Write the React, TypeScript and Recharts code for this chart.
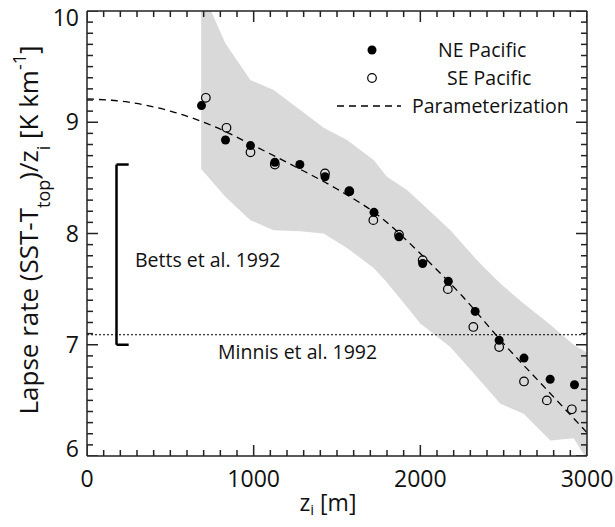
import React from 'react';
import { ComposedChart, Area, Line, Scatter, XAxis, YAxis, ReferenceLine, Customized } from 'recharts';

// tick positions (major every 1000 m / 1 K km-1, minor every 100 m / 0.1)
const xTicks = Array.from({ length: 31 }, (_, i) => i * 100);
const yTicks = Array.from({ length: 41 }, (_, i) => (60 + i) / 10);

// grey range
const bandZ = [685, 830, 980, 1120, 1280, 1420, 1560, 1720, 1800, 1920, 2000, 2180, 2340, 2480, 2620, 2780, 2920, 3000];
const bandHi = [10.2, 9.71, 9.38, 9.29, 9.11, 8.95, 8.84, 8.66, 8.51, 8.39, 8.28, 8.03, 7.76, 7.55, 7.37, 7.18, 7.0, 6.93];
const bandLo = [8.58, 8.33, 8.12, 8.03, 8.02, 8.0, 7.87, 7.69, 7.56, 7.34, 7.19, 6.98, 6.71, 6.47, 6.38, 6.14, 6.16, 5.97];

// parameterization curve
const paramZ = [0, 250, 500, 750, 1000, 1250, 1500, 1750, 2000, 2250, 2500, 2750, 3000];
const paramVal = [9.21, 9.18, 9.1, 8.97, 8.79, 8.6, 8.4, 8.16, 7.82, 7.44, 7.01, 6.61, 6.21];

// NE Pacific (filled)
const neZ = [687, 831, 981, 1127, 1277, 1428, 1574, 1722, 1872, 2014, 2168, 2329, 2473, 2622, 2779, 2925];
const neVal = [9.15, 8.84, 8.79, 8.64, 8.62, 8.51, 8.38, 8.19, 7.97, 7.73, 7.57, 7.3, 7.04, 6.88, 6.69, 6.64];

// SE Pacific (open)
const seZ = [713, 837, 981, 1127, 1428, 1574, 1718, 1872, 2014, 2165, 2318, 2473, 2622, 2759, 2909];
const seVal = [9.22, 8.95, 8.73, 8.62, 8.54, 8.38, 8.12, 7.99, 7.76, 7.5, 7.16, 6.98, 6.67, 6.5, 6.42];

const minnis = 7.09;
const betts = { z: 177, foot: 250, lo: 7.0, hi: 8.62 };

const band = bandZ.map((z, i) => ({ z, lo: bandLo[i], hi: bandHi[i] }));
const param = paramZ.map((z, i) => ({ z, v: paramVal[i] }));
const ne = neZ.map((z, i) => ({ z, v: neVal[i] }));
const se = seZ.map((z, i) => ({ z, v: seVal[i] }));

const isMajorX = (v: number) => v % 1000 === 0;
const isMajorY = (v: number) => Math.abs(v - Math.round(v)) < 1e-6;

// inward tick marks drawn as markers sitting on the frame
const bottomMarks = xTicks.map((z) => ({ z, v: 6, major: isMajorX(z) }));
const topMarks = xTicks.map((z) => ({ z, v: 10, major: isMajorX(z) }));
const leftMarks = yTicks.map((v) => ({ z: 0, v, major: isMajorY(v) }));
const rightMarks = yTicks.map((v) => ({ z: 3000, v, major: isMajorY(v) }));

const FONT = '"Open Sans", sans-serif';
const AXIS = '#222';

const tickMark = (dx: number, dy: number) => (p: any) => {
  const len = p.payload && p.payload.major ? 11 : 6;
  return (
    <line
      x1={p.cx}
      y1={p.cy}
      x2={p.cx + dx * len}
      y2={p.cy + dy * len}
      stroke={AXIS}
      strokeWidth={1.5}
    />
  );
};
const UpMark = tickMark(0, -1);
const DownMark = tickMark(0, 1);
const RightMark = tickMark(1, 0);
const LeftMark = tickMark(-1, 0);

const BottomTick = (p: any) => {
  const v = p.payload.value;
  if (!isMajorX(v)) return <g />;
  return (
    <text x={p.x} y={p.y + 31} textAnchor="middle" fontSize={23} fontFamily={FONT} fill="#111">
      {v}
    </text>
  );
};

const LeftTick = (p: any) => {
  const v = p.payload.value;
  if (!isMajorY(v)) return <g />;
  const shift = v === 10 ? 7 : v === 6 ? -7 : 0;
  return (
    <text x={p.x - 8} y={p.y + 8 + shift} textAnchor="end" fontSize={23} fontFamily={FONT} fill="#111">
      {Math.round(v)}
    </text>
  );
};

const Filled = (p: any) => <circle cx={p.cx} cy={p.cy} r={4.5} fill="#000" />;
const Open = (p: any) => <circle cx={p.cx} cy={p.cy} r={4.3} fill="none" stroke="#000" strokeWidth={1.2} />;

const Overlay = () => (
  <g fontFamily={FONT} fill="#111">
    <circle cx={372} cy={50} r={4.5} fill="#000" />
    <text x={438} y={57} fontSize={19.5}>NE Pacific</text>
    <circle cx={372} cy={78} r={4.3} fill="none" stroke="#000" strokeWidth={1.2} />
    <text x={447} y={85} fontSize={19.5}>SE Pacific</text>
    <line x1={337} x2={401} y1={106} y2={106} stroke="#000" strokeWidth={1.3} strokeDasharray="7 5" />
    <text x={412} y={113} fontSize={19.5}>Parameterization</text>
    <text x={135} y={267} fontSize={19.5}>Betts et al. 1992</text>
    <text x={218} y={359} fontSize={19.5}>Minnis et al. 1992</text>
    <text x={328} y={511} textAnchor="middle" fontSize={23}>
      z<tspan fontSize={15} dy={4}>i</tspan>
      <tspan dy={-4}> [m]</tspan>
    </text>
    <text x={38} y={230} textAnchor="middle" fontSize={26} transform="rotate(-90, 38, 230)">
      Lapse rate (SST-T<tspan fontSize={18} baselineShift="sub">top</tspan>
      <tspan>)/z</tspan>
      <tspan fontSize={18} baselineShift="sub">i</tspan>
      <tspan> [K km</tspan>
      <tspan fontSize={18} baselineShift="super">-1</tspan>
      <tspan>]</tspan>
    </text>
  </g>
);

export default function App() {
  return (
    <div style={{ position: 'absolute', left: 0, top: 0, background: '#fff' }}>
      <ComposedChart width={615} height={527} margin={{ top: 10, right: 27, bottom: 0, left: 0 }}>
        <XAxis
          xAxisId={0}
          dataKey="z"
          type="number"
          domain={[0, 3000]}
          ticks={xTicks}
          interval={0}
          height={71}
          tickSize={0}
          tickMargin={0}
          tickLine={false}
          tick={BottomTick}
          axisLine={{ stroke: AXIS, strokeWidth: 1.5 }}
          allowDataOverflow
        />
        <XAxis
          xAxisId="top"
          orientation="top"
          type="number"
          domain={[0, 3000]}
          ticks={[]}
          height={1}
          tick={false}
          tickLine={false}
          axisLine={{ stroke: AXIS, strokeWidth: 1.5 }}
          allowDataOverflow
        />
        <YAxis
          yAxisId={0}
          type="number"
          domain={[6, 10]}
          ticks={yTicks}
          interval={0}
          width={87}
          tickSize={0}
          tickMargin={0}
          tickLine={false}
          tick={LeftTick}
          axisLine={{ stroke: AXIS, strokeWidth: 1.5 }}
          allowDataOverflow
        />
        <YAxis
          yAxisId="right"
          orientation="right"
          type="number"
          domain={[6, 10]}
          ticks={[]}
          width={1}
          tick={false}
          tickLine={false}
          axisLine={{ stroke: AXIS, strokeWidth: 1.5 }}
          allowDataOverflow
        />
        <Area
          data={band}
          dataKey={(d: any) => [d.lo, d.hi]}
          type="linear"
          stroke="none"
          fill="#d9d9d9"
          fillOpacity={1}
          isAnimationActive={false}
        />
        <ReferenceLine y={minnis} stroke="#000" strokeWidth={1} strokeDasharray="2 2" />
        <ReferenceLine
          segment={[{ x: betts.foot, y: betts.hi }, { x: betts.z, y: betts.hi }]}
          stroke="#000"
          strokeWidth={2.5}
        />
        <ReferenceLine
          segment={[{ x: betts.z, y: betts.hi }, { x: betts.z, y: betts.lo }]}
          stroke="#000"
          strokeWidth={2.5}
        />
        <ReferenceLine
          segment={[{ x: betts.z, y: betts.lo }, { x: betts.foot, y: betts.lo }]}
          stroke="#000"
          strokeWidth={2.5}
        />
        <Line
          data={param}
          dataKey="v"
          type="monotone"
          stroke="#000"
          strokeWidth={1.3}
          strokeDasharray="7 5"
          dot={false}
          activeDot={false}
          isAnimationActive={false}
        />
        <Scatter data={bottomMarks} dataKey="v" shape={UpMark} isAnimationActive={false} />
        <Scatter data={topMarks} dataKey="v" shape={DownMark} isAnimationActive={false} />
        <Scatter data={leftMarks} dataKey="v" shape={RightMark} isAnimationActive={false} />
        <Scatter data={rightMarks} dataKey="v" shape={LeftMark} isAnimationActive={false} />
        <Scatter data={ne} dataKey="v" shape={Filled} isAnimationActive={false} />
        <Scatter data={se} dataKey="v" shape={Open} isAnimationActive={false} />
        <Customized component={Overlay} />
      </ComposedChart>
    </div>
  );
}
